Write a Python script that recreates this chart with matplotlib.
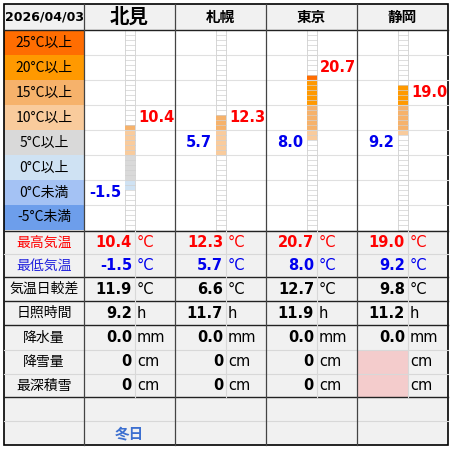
import matplotlib
matplotlib.use("Agg")
import matplotlib.pyplot as plt
from matplotlib.patches import Rectangle
import math

plt.rcParams['font.family'] = ['Noto Sans CJK JP', 'DejaVu Sans']

date = "2026/04/03"
cities = ["北見", "札幌", "東京", "静岡"]
t_max = [10.4, 12.3, 20.7, 19.0]
t_min = [-1.5, 5.7, 8.0, 9.2]
t_range = ["11.9", "6.6", "12.7", "9.8"]
sun = ["9.2", "11.7", "11.9", "11.2"]
rain = ["0.0", "0.0", "0.0", "0.0"]
snow = ["0", "0", "0", ""]
depth = ["0", "0", "0", ""]
notes = ["冬日", "", "", ""]
band_labels = ["25°C以上", "20°C以上", "15°C以上", "10°C以上", "5°C以上", "0°C以上", "0°C未満", "-5°C未満"]
band_colors = ["#ff6d01", "#ff9900", "#f6b26b", "#f9cb9c", "#d9d9d9", "#cfe2f3", "#a4c2f4", "#6d9eeb"]
bar_colors = {2: "#f6b26b", 1: "#f9cb9c", 0: "#d9d9d9", -1: "#cfe2f3", -2: "#a4c2f4", 4: "#ff6d01", 3: "#ff9900"}

fig = plt.figure(figsize=(4.51, 4.49), dpi=100)
ax = fig.add_axes([0, 0, 1, 1])
ax.set_xlim(0, 451); ax.set_ylim(449, 0); ax.axis('off')

L, R, T, B = 4, 448, 4, 445
cx = [84, 175, 266, 357, 448]
def yT(t): return 180 - 5 * t

ax.add_patch(Rectangle((L, T), R-L, B-T, fc='#f1f1f1', ec='none'))
ax.add_patch(Rectangle((84, 30), R-84, 200, fc='white', ec='none'))
# header
ax.text(44, 17, date, ha='center', va='center', fontsize=9, fontweight='bold', family='DejaVu Sans')
for i, c in enumerate(cities):
    ax.text((cx[i]+cx[i+1])/2, 17, c, ha='center', va='center', fontsize=14 if i == 0 else 10.5, fontweight='bold')
# bands
for k, (lab, col) in enumerate(zip(band_labels, band_colors)):
    y0 = 30 + 25*k
    ax.add_patch(Rectangle((L, y0), 80, 25, fc=col, ec='none'))
    ax.text(44, y0+12.5, lab, ha='center', va='center', fontsize=10)
    ax.plot([84, R], [y0, y0], color='#e0e0e0', lw=0.8)
# bars
for i in range(4):
    x0 = cx[i] + 41
    ax.add_patch(Rectangle((x0, 30), 10, 200, fc='white', ec='#d0d0d0', lw=0.6))
    lo, hi = math.floor(t_min[i]), math.ceil(t_max[i])
    for t in range(lo, hi):
        b = math.floor(t / 5)
        ax.add_patch(Rectangle((x0, yT(t+1)), 10, 5, fc=bar_colors.get(b, '#ff6d01'), ec='none'))
    for t in range(-10, 31):
        ax.plot([x0, x0+10], [yT(t), yT(t)], color='#d0d0d0', lw=0.5)
    bh = math.floor(t_max[i] / 5); yh = yT(5*bh) - 12.5
    bl = math.floor(t_min[i] / 5); yl = yT(5*bl) - 12.5
    ax.text(x0+13, yh, f"{t_max[i]:.1f}", ha='left', va='center', color='red', fontsize=10.5, fontweight='bold', family='DejaVu Sans')
    ax.text(x0-4, yl, f"{t_min[i]:.1f}", ha='right', va='center', color='#0000ee', fontsize=10.5, fontweight='bold', family='DejaVu Sans')

rows = [231, 254, 277, 301, 325, 350, 374, 397, 421, 445]
row_labels = ["最高気温", "最低気温", "気温日較差", "日照時間", "降水量", "降雪量", "最深積雪", "", ""]
row_vals = [[f"{v:.1f}" for v in t_max], [f"{v:.1f}" for v in t_min], t_range, sun, rain, snow, depth]
units = ["°C", "°C", "°C", "h", "mm", "cm", "cm"]
colors = ['red', '#0000ee', 'black', 'black', 'black', 'black', 'black']
lab_colors = ['red', '#2222dd', 'black', 'black', 'black', 'black', 'black']
for r in range(9):
    yc = (rows[r] + rows[r+1]) / 2
    if row_labels[r]:
        ax.text(44, yc, row_labels[r], ha='center', va='center', fontsize=10, color=lab_colors[r])
    if r < 7:
        for i in range(4):
            if r >= 5 and row_vals[r][i] == "":
                ax.add_patch(Rectangle((cx[i], rows[r]), 51, rows[r+1]-rows[r], fc='#f4cccc', ec='none'))
            ax.text(cx[i]+48, yc, row_vals[r][i], ha='right', va='center', fontsize=10.5, fontweight='bold', color=colors[r], family='DejaVu Sans')
            ax.text(cx[i]+53, yc, units[r], ha='left', va='center', fontsize=10.5, color=colors[r], family='DejaVu Sans')
for i in range(4):
    if notes[i]:
        ax.text((cx[i]+cx[i+1])/2, 433, notes[i], ha='center', va='center', fontsize=10.5, fontweight='bold', color='#3c6fd0')
# lines
for y in [254, 350, 374, 421]:
    ax.plot([L, R], [y, y], color='#d8d8d8', lw=0.8)
for y in [30, 231, 277, 301, 325, 397]:
    ax.plot([L, R], [y, y], color='#222222', lw=1.0)
for i in range(4):
    ax.plot([cx[i]+51]*2, [231, 397], color='#d8d8d8', lw=0.8)
for x in cx[:-1]:
    ax.plot([x, x], [T, B], color='#444444', lw=0.9)
ax.add_patch(Rectangle((L, T), R-L, B-T, fc='none', ec='black', lw=1.2))
fig.savefig("out.png", dpi=100)
